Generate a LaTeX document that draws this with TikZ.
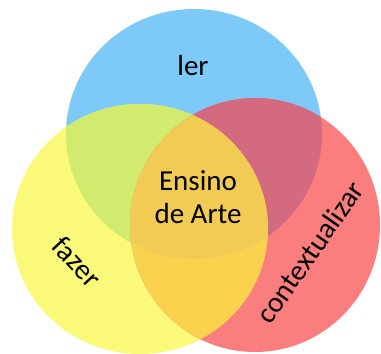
\documentclass[tikz,border=0pt]{standalone}
\usepackage{fontspec}
\setmainfont{Carlito}
\definecolor{cblue}{HTML}{7DCAF8}
\definecolor{cyellow}{HTML}{FBF97A}
\definecolor{cred}{HTML}{FA7E7E}
\definecolor{cgreen}{HTML}{D2EA6E}
\definecolor{cmauve}{HTML}{D46A80}
\definecolor{corange}{HTML}{FBD24E}
\definecolor{ccenter}{HTML}{F2CB55}
\begin{document}
\begin{tikzpicture}[x=1pt,y=-1pt,
  lbl/.style={font=\fontsize{29}{33}\selectfont, text=black, align=center, inner sep=0pt}]
\useasboundingbox (0,0) rectangle (381,354);
\fill[white] (0,0) rectangle (381,354);
\def\blue{(194,134) ellipse[x radius=128pt, y radius=125pt]}
\def\yellow{(140,229) ellipse[x radius=128pt, y radius=125pt]}
\def\red{(255,225) ellipse[x radius=125pt, y radius=127pt]}
\fill[cblue] \blue;
\fill[cyellow] \yellow;
\fill[cred] \red;
\begin{scope}\clip \yellow; \fill[cgreen] \blue; \end{scope}
\begin{scope}\clip \blue; \fill[cmauve] \red; \end{scope}
\begin{scope}\clip \yellow; \fill[corange] \red; \end{scope}
\begin{scope}\clip \yellow; \clip \blue; \fill[ccenter] \red; \end{scope}
\node[lbl] (ler) at (193,66) {ler};
\node[lbl] (ens) at (198,197) {Ensino\\de Arte};
\node[lbl, rotate=-47] (faz) at (77,262) {fazer};
\node[lbl, rotate=55] (ctx) at (310,252) {contextualizar};
\end{tikzpicture}
\end{document}
